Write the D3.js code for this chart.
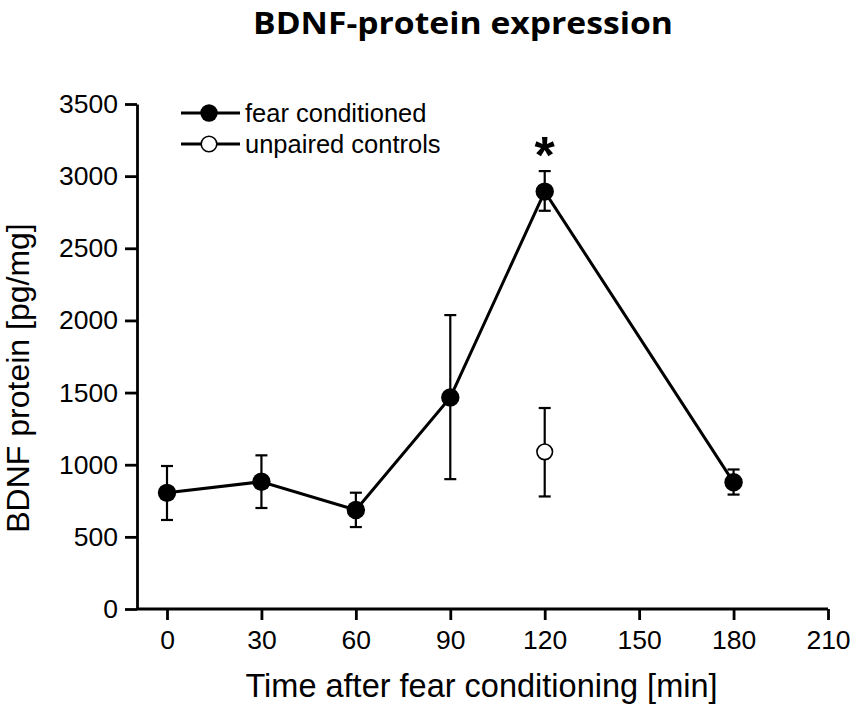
<!DOCTYPE html>
<html><head><meta charset="utf-8">
<script src="https://cdn.jsdelivr.net/npm/d3@7"></script>
<style>body{margin:0;background:#fff}svg{display:block}</style>
</head><body>
<svg id="c" width="850" height="706"></svg>
<script>
const xTicks = [0,30,60,90,120,150,180,210];
const yTicks = [0,500,1000,1500,2000,2500,3000,3500];
const fearTime = [0,30,60,90,120,180];
const fearMean = [805,882,686,1466,2893,878];
const fearLow  = [617,700,568,900,2760,793];
const fearHigh = [991,1065,806,2037,3035,967];
const ctrlTime = [120];
const ctrlMean = [1089];
const ctrlLow  = [780];
const ctrlHigh = [1393];
const sigTime = [120];
const sigValue = [3230];

const svg = d3.select('#c');
const x = d3.scaleLinear().domain([0,210]).range([167,828]);
const y = d3.scaleLinear().domain([0,3500]).range([609,104]);
const font = "'Liberation Sans', Arial, sans-serif";

svg.append('text').attr('x',463).attr('y',34).attr('text-anchor','middle')
  .attr('font-family',"'Open Sans', sans-serif").attr('font-weight','bold')
  .attr('font-size',29.5).attr('textLength',420).attr('lengthAdjust','spacingAndGlyphs')
  .attr('fill','#000').text('BDNF-protein expression');

const gx = svg.append('g').attr('transform','translate(0,609)')
  .call(d3.axisBottom(x).tickValues(xTicks).tickFormat(d3.format('d')).tickSize(11).tickSizeOuter(0).tickPadding(10));
gx.select('.domain').attr('d','M137,0H'+x(210));
const gy = svg.append('g').attr('transform','translate(137,0)')
  .call(d3.axisLeft(y).tickValues(yTicks).tickFormat(d3.format('d')).tickSize(12).tickSizeOuter(0).tickPadding(7));
[gx,gy].forEach(g=>{
  g.selectAll('path,line').attr('stroke','#000').attr('stroke-width',2.8);
  g.selectAll('text').attr('font-family',font).attr('font-size',26.5).attr('fill','#000');
});

svg.append('text').attr('x',481.5).attr('y',697).attr('text-anchor','middle')
  .attr('font-family',font).attr('font-size',32.5).attr('fill','#000')
  .text('Time after fear conditioning [min]');
svg.append('text').attr('transform','translate(29,378) rotate(-90)').attr('text-anchor','middle')
  .attr('font-family',font).attr('font-size',32).attr('fill','#000')
  .text('BDNF protein [pg/mg]');

function errBars(t,lo,hi){
  const g = svg.append('g').attr('stroke','#000').attr('stroke-width',2.2);
  t.forEach((d,i)=>{
    g.append('line').attr('x1',x(d)).attr('x2',x(d)).attr('y1',y(lo[i])).attr('y2',y(hi[i]));
    [lo[i],hi[i]].forEach(v=>g.append('line').attr('x1',x(d)-6).attr('x2',x(d)+6).attr('y1',y(v)).attr('y2',y(v)));
  });
}
errBars(fearTime,fearLow,fearHigh);
errBars(ctrlTime,ctrlLow,ctrlHigh);

svg.append('path').datum(fearTime.map((t,i)=>[t,fearMean[i]]))
  .attr('d',d3.line().x(d=>x(d[0])).y(d=>y(d[1])))
  .attr('fill','none').attr('stroke','#000').attr('stroke-width',3);

svg.selectAll('.fc').data(fearTime).enter().append('circle')
  .attr('cx',d=>x(d)).attr('cy',(d,i)=>y(fearMean[i])).attr('r',9.2).attr('fill','#000');
svg.selectAll('.uc').data(ctrlTime).enter().append('circle')
  .attr('cx',d=>x(d)).attr('cy',(d,i)=>y(ctrlMean[i])).attr('r',7.8)
  .attr('fill','#fff').attr('stroke','#000').attr('stroke-width',1.6);

svg.selectAll('.sig').data(sigTime).enter().append('text')
  .attr('x',d=>x(d)).attr('y',(d,i)=>y(sigValue[i])).attr('dy','0.58em').attr('text-anchor','middle')
  .attr('font-family',font).attr('font-weight','bold').attr('font-size',52).attr('fill','#000').text('*');

// legend
const leg = [{label:'fear conditioned',fill:'#000',r:8.7,sw:0},{label:'unpaired controls',fill:'#fff',r:7.8,sw:1.6}];
leg.forEach((l,i)=>{
  const ly = 113 + i*31;
  svg.append('line').attr('x1',181).attr('x2',240).attr('y1',ly).attr('y2',ly).attr('stroke','#000').attr('stroke-width',2.8);
  svg.append('circle').attr('cx',209).attr('cy',ly).attr('r',l.r).attr('fill',l.fill)
    .attr('stroke','#000').attr('stroke-width',l.sw);
  svg.append('text').attr('x',245).attr('y',ly+9).attr('font-family',font).attr('font-size',25.5).attr('fill','#000').text(l.label);
});
</script>
</body></html>
